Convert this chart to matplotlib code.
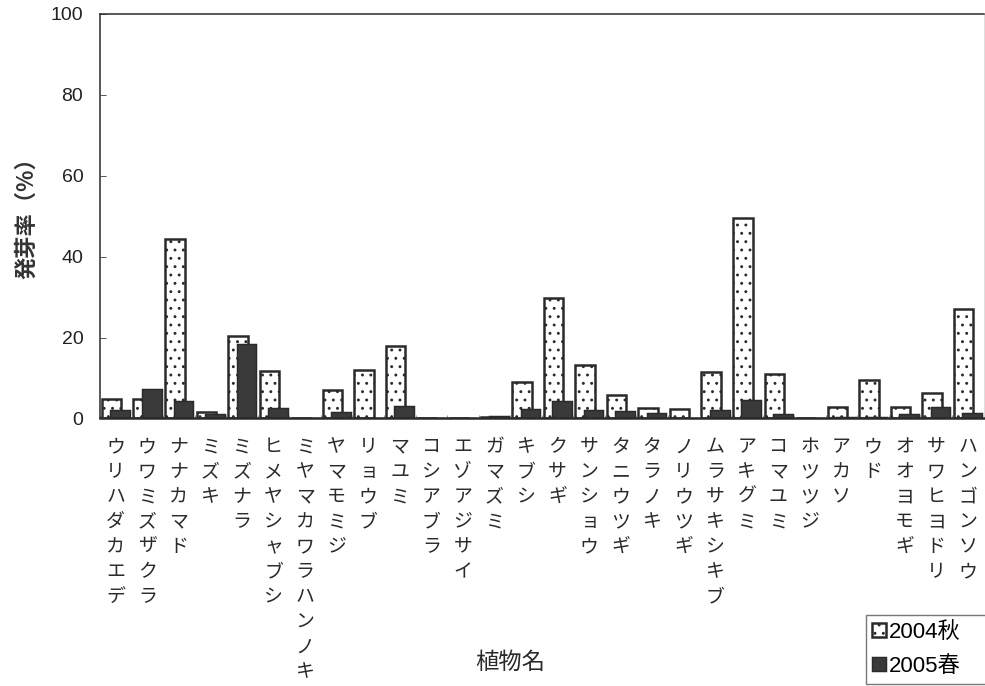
import numpy as np
import matplotlib
matplotlib.use("Agg")
import matplotlib.pyplot as plt

# species names (drawn vertically under each group)
species = ['ウリハダカエデ', 'ウワミズザクラ', 'ナナカマド', 'ミズキ', 'ミズナラ',
           'ヒメヤシャブシ', 'ミヤマカワラハンノキ', 'ヤマモミジ', 'リョウブ', 'マユミ',
           'コシアブラ', 'エゾアジサイ', 'ガマズミ', 'キブシ', 'クサギ',
           'サンショウ', 'タニウツギ', 'タラノキ', 'ノリウツギ', 'ムラサキシキブ',
           'アキグミ', 'コマユミ', 'ホツツジ', 'アカソ', 'ウド',
           'オオヨモギ', 'サワヒヨドリ', 'ハンゴンソウ']

# germination rate (%)
autumn_2004 = [4.9, 4.9, 44.4, 1.5, 20.3, 11.7, 0.0, 7.0, 12.1, 17.8,
               0.0, 0.0, 0.4, 9.1, 29.9, 13.2, 5.9, 2.5, 2.4, 11.4,
               49.5, 11.1, 0.0, 2.9, 9.6, 2.8, 6.2, 27.0]
spring_2005 = [2.0, 7.2, 4.4, 1.0, 18.3, 2.7, 0.0, 1.5, 0.0, 3.0,
               0.0, 0.0, 0.6, 2.4, 4.4, 2.1, 1.9, 1.4, 0.0, 2.1,
               4.6, 1.2, 0.0, 0.3, 0.3, 1.0, 2.9, 1.4]

labels = ['2004秋', '2005春']
yticks = [0, 20, 40, 60, 80, 100]

plt.rcParams['hatch.linewidth'] = 0.9

jp = ['Noto Sans CJK JP']
num = ['Liberation Sans', 'Noto Sans CJK JP']
dark = '#3a3a3a'
ink = '#2a2a2a'

fig = plt.figure(figsize=(9.85, 6.86), dpi=100)
ax = fig.add_axes([0.1015, 0.39, 0.897, 0.5896])

x = np.arange(len(species))
w = 0.62
b1 = ax.bar(x - 0.13, autumn_2004, w, facecolor='white', edgecolor=ink,
            linewidth=1.8, hatch='..', label=labels[0])
b2 = ax.bar(x + 0.14, spring_2005, w, facecolor=dark, edgecolor=ink,
            linewidth=1.05, label=labels[1])

ax.set_xlim(-0.5, len(species) - 0.5)
ax.set_ylim(0, 100)
ax.set_yticks(yticks)
ax.set_yticklabels([str(v) for v in yticks], family=num, fontsize=14, color='#222222')
ax.tick_params(axis='y', direction='in', length=4, width=0.7, color='#555555', pad=12)

ax.set_xticks(x)
ax.set_xticklabels(['\n'.join(s) for s in species], family=jp, fontsize=13.6,
                   color='#2a2a2a', va='top', linespacing=1.25)
ax.set_xticks(np.arange(len(species) + 1) - 0.5, minor=True)
ax.tick_params(axis='x', which='major', length=0, pad=12.8)
ax.tick_params(axis='x', which='minor', direction='in', length=2.5, color='#888888')

for side in ['left', 'top', 'bottom']:
    ax.spines[side].set_color(ink)
    ax.spines[side].set_linewidth(1.1)
ax.spines['bottom'].set_linewidth(1.8)
ax.spines['right'].set_color('#dddddd')
ax.spines['right'].set_linewidth(0.8)

fig.text(0.027, 0.69, '発芽率（%）', rotation=90, family=jp, fontsize=16,
         fontweight='bold', color='#333333', ha='center', va='center')
fig.text(0.518, 0.034, '植物名', family=jp, fontsize=16.8, color='#2a2a2a',
         ha='center', va='center')

leg = fig.legend(handles=[b1, b2], labels=labels, loc='lower left',
                 bbox_to_anchor=(0.879, 0.003, 0.13, 0.1), mode='expand',
                 prop={'family': num, 'size': 16},
                 frameon=True, fancybox=False, edgecolor='#555555',
                 handlelength=0.6, handleheight=0.6, handletextpad=0.15,
                 borderpad=0.3, labelspacing=0.6, borderaxespad=0.0)
leg.get_frame().set_linewidth(1.0)

fig.savefig('out.png', dpi=100, facecolor='white')
